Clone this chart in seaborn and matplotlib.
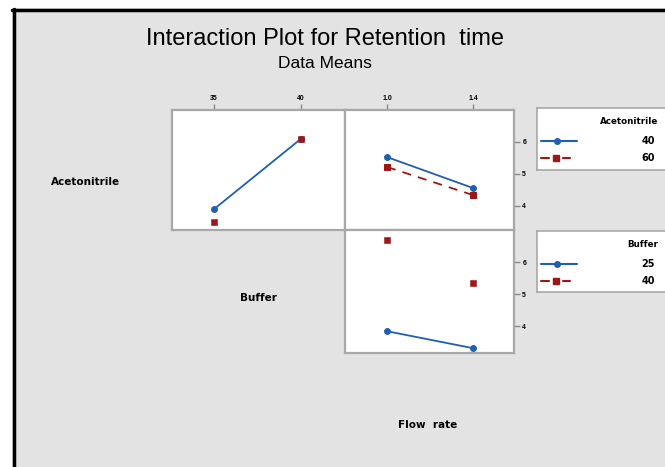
import matplotlib
matplotlib.use("Agg")
import matplotlib.pyplot as plt
from matplotlib.patches import Rectangle
from matplotlib.lines import Line2D
import seaborn as sns
import pandas as pd

sns.set_theme(style="white")
plt.rcParams["font.family"] = ["Liberation Sans", "DejaVu Sans"]
plt.rcParams["text.color"] = "black"

# Factor levels
buffer_levels = [35, 40]
flow_levels = [1.0, 1.4]
acn_levels = ["40", "60"]
buffer_labels = ["25", "40"]

# Means: Acetonitrile x Buffer
acn40_by_buffer = [3.9, 6.1]
acn60_by_buffer = [3.5, 6.1]
# Means: Acetonitrile x Flow rate
acn40_by_flow = [5.53, 4.56]
acn60_by_flow = [5.22, 4.34]
# Means: Buffer x Flow rate
buf25_by_flow = [3.84, 3.31]
buf40_by_flow = [6.70, 5.34]

y_ticks = [4, 5, 6]

BLUE = "#1f5fb0"
RED = "#a01515"
BG = "#e3e3e3"
FRAME = "#a8a8a8"
BOLD_FONT = ["DejaVu Sans"]

fig = plt.figure(figsize=(6.65, 4.67), dpi=100)
fig.patch.set_facecolor("white")

# Gray canvas with a black border on the left and top
fig.patches.append(Rectangle((12 / 665, 0), 1, 1 - 8 / 467, transform=fig.transFigure,
                             facecolor=BG, edgecolor="none", zorder=-10))
fig.lines.append(Line2D([13.5 / 665, 13.5 / 665], [0, 1 - 8.5 / 467], transform=fig.transFigure,
                        color="black", lw=2.5))
fig.lines.append(Line2D([12 / 665, 1], [1 - 9.5 / 467, 1 - 9.5 / 467], transform=fig.transFigure,
                        color="black", lw=2.5))


def px_axes(x0, y0, x1, y1):
    return fig.add_axes([x0 / 665, 1 - y1 / 467, (x1 - x0) / 665, (y1 - y0) / 467])


ax_ab = px_axes(172, 110, 345, 230)
ax_af = px_axes(345, 110, 514, 230)
ax_bf = px_axes(345, 230, 514, 353)

for ax in (ax_ab, ax_af, ax_bf):
    ax.set_facecolor("white")
    for s in ax.spines.values():
        s.set_color(FRAME)
        s.set_linewidth(1.6)

tick_kw = dict(labelsize=5, colors="#888888", labelcolor="black", length=4, width=1, pad=2)

# Acetonitrile by Buffer
df = pd.DataFrame({"x": buffer_levels, "y": acn40_by_buffer})
sns.lineplot(data=df, x="x", y="y", ax=ax_ab, color=BLUE, lw=1.3, marker="o",
             markersize=4.2, markeredgecolor=BLUE)
df = pd.DataFrame({"x": buffer_levels, "y": acn60_by_buffer})
sns.scatterplot(data=df, x="x", y="y", ax=ax_ab, color=RED, marker="s", s=24,
                edgecolor=RED, zorder=5)
ax_ab.set_xlim(32.59, 42.53)
ax_ab.set_ylim(3.25, 7.0)
ax_ab.set_xticks(buffer_levels)
ax_ab.set_xticklabels([str(v) for v in buffer_levels], fontweight="bold")
ax_ab.xaxis.tick_top()
ax_ab.set_yticks([])
ax_ab.tick_params(axis="x", **tick_kw)

# Acetonitrile by Flow rate
df = pd.DataFrame({"x": flow_levels, "y": acn40_by_flow})
sns.lineplot(data=df, x="x", y="y", ax=ax_af, color=BLUE, lw=1.3, marker="o",
             markersize=4.2, markeredgecolor=BLUE, zorder=4)
df = pd.DataFrame({"x": flow_levels, "y": acn60_by_flow})
sns.lineplot(data=df, x="x", y="y", ax=ax_af, color=RED, lw=1.3, marker="s",
             markersize=5, markeredgecolor=RED, linestyle=(0, (5, 4)), zorder=3)
ax_af.set_xlim(0.805, 1.59)
ax_af.set_ylim(3.25, 7.0)
ax_af.set_xticks(flow_levels)
ax_af.set_xticklabels(["1.0", "1.4"], fontweight="bold")
ax_af.xaxis.tick_top()
ax_af.yaxis.tick_right()
ax_af.set_yticks(y_ticks)
ax_af.set_yticklabels([str(v) for v in y_ticks], fontweight="bold")
ax_af.tick_params(axis="both", **tick_kw)

# Buffer by Flow rate
df = pd.DataFrame({"x": flow_levels, "y": buf25_by_flow})
sns.lineplot(data=df, x="x", y="y", ax=ax_bf, color=BLUE, lw=1.3, marker="o",
             markersize=4.2, markeredgecolor=BLUE)
df = pd.DataFrame({"x": flow_levels, "y": buf40_by_flow})
sns.scatterplot(data=df, x="x", y="y", ax=ax_bf, color=RED, marker="s", s=24,
                edgecolor=RED, zorder=5)
ax_bf.set_xlim(0.805, 1.59)
ax_bf.set_ylim(3.16, 7.0)
ax_bf.set_xticks([])
ax_bf.yaxis.tick_right()
ax_bf.set_yticks(y_ticks)
ax_bf.set_yticklabels([str(v) for v in y_ticks], fontweight="bold")
ax_bf.tick_params(axis="y", **tick_kw)

for ax in (ax_ab, ax_af, ax_bf):
    ax.set_xlabel("")
    ax.set_ylabel("")
    leg = ax.get_legend()
    if leg:
        leg.remove()


def legend_box(y0, y1, title, labels):
    lax = px_axes(537, y0, 672, y1)
    lax.set_xlim(0, 135)
    lax.set_ylim(y1 - y0, 0)
    lax.set_xticks([])
    lax.set_yticks([])
    lax.set_facecolor("white")
    for s in lax.spines.values():
        s.set_color(FRAME)
        s.set_linewidth(1.2)
    lax.text(121, 14, title, ha="right", va="center", fontsize=6.3, fontweight="bold",
             family=BOLD_FONT)
    lax.plot([4, 40], [33, 33], color=BLUE, lw=1.5)
    lax.plot([20], [33], marker="o", color=BLUE, markersize=4)
    lax.plot([4, 12], [50, 50], color=RED, lw=1.5)
    lax.plot([26, 33], [50, 50], color=RED, lw=1.5)
    lax.plot([19], [50], marker="s", color=RED, markersize=5)
    lax.text(118, 33, labels[0], ha="right", va="center", fontsize=7, fontweight="bold",
             family=BOLD_FONT)
    lax.text(118, 50, labels[1], ha="right", va="center", fontsize=7, fontweight="bold",
             family=BOLD_FONT)


legend_box(108, 170, "Acetonitrile", acn_levels)
legend_box(231, 292, "Buffer", buffer_labels)

fig.text(325 / 665, 1 - 39 / 467, "Interaction Plot for Retention  time", ha="center",
         va="center", fontsize=17)
fig.text(325 / 665, 1 - 64 / 467, "Data Means", ha="center", va="center", fontsize=12.5)
fig.text(86 / 665, 1 - 182 / 467, "Acetonitrile", ha="center", va="center",
         fontsize=7.5, fontweight="bold", family=BOLD_FONT)
fig.text(258 / 665, 1 - 298 / 467, "Buffer", ha="center", va="center",
         fontsize=7.5, fontweight="bold", family=BOLD_FONT)
fig.text(428 / 665, 1 - 425 / 467, "Flow  rate", ha="center", va="center",
         fontsize=7.5, fontweight="bold", family=BOLD_FONT)

fig.savefig("out.png", dpi=100)
